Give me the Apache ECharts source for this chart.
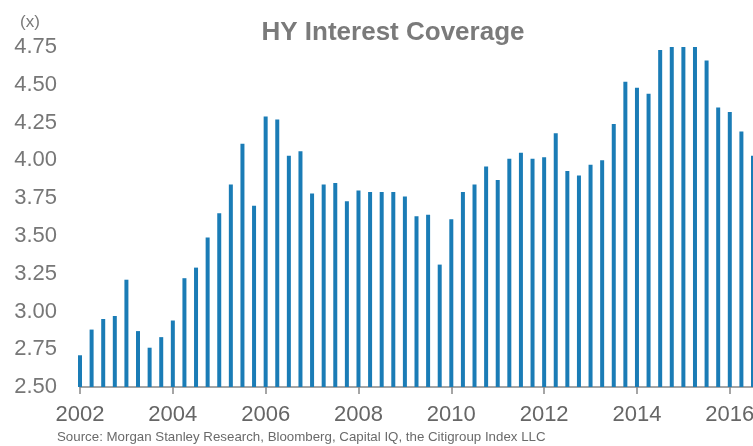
<!DOCTYPE html>
<html>
<head>
<meta charset="utf-8">
<script src="https://cdn.jsdelivr.net/npm/echarts@6/dist/echarts.min.js"></script>
<style>
  html, body { margin: 0; padding: 0; background: #fff; }
  #main { width: 753px; height: 446px; }
</style>
</head>
<body>
<div id="main"></div>
<script>
// quarters 2002Q1 .. 2016Q3
var years = [2002, 2003, 2004, 2005, 2006, 2007, 2008, 2009, 2010, 2011, 2012, 2013, 2014, 2015, 2016];
var quarters = [];
years.forEach(function (y) {
    for (var q = 1; q <= 4; q++) {
        if (y == 2016 && q > 3) break;
        quarters.push(y + 'Q' + q);
    }
});

var coverage = [
    2.71, 2.88, 2.95, 2.97, 3.21, 2.87, 2.76, 2.83,
    2.94, 3.22, 3.29, 3.49, 3.65, 3.84, 4.11, 3.70,
    4.29, 4.27, 4.03, 4.06, 3.78, 3.84, 3.85, 3.73,
    3.80, 3.79, 3.79, 3.79, 3.76, 3.63, 3.64, 3.31,
    3.61, 3.79, 3.84, 3.96, 3.87, 4.01, 4.05, 4.01,
    4.02, 4.18, 3.93, 3.90, 3.97, 4.00, 4.24, 4.52,
    4.48, 4.44, 4.73, 4.75, 4.75, 4.75, 4.66, 4.35,
    4.32, 4.19, 4.03
];

var yTicks = ['2.50', '2.75', '3.00', '3.25', '3.50', '3.75', '4.00', '4.25', '4.50', '4.75'];

var chart = echarts.init(document.getElementById('main'));
var option = {
    animation: false,
    title: {
        text: 'HY Interest Coverage',
        left: 388,
        top: 15,
        textAlign: 'center',
        textStyle: { fontFamily: 'Liberation Sans', fontSize: 26, fontWeight: 'bold', color: '#7a7a7a' }
    },
    graphic: [
        {
            type: 'text', left: 20, top: 14,
            style: { text: '(x)', font: '17px "Liberation Sans"', fill: '#7a7a7a' }
        },
        {
            type: 'text', left: 57, top: 431,
            style: { text: 'Source: Morgan Stanley Research, Bloomberg, Capital IQ, the Citigroup Index LLC',
                     font: '13.3px "Liberation Sans"', fill: '#6a6a6a' }
        }
    ],
    grid: { left: 80, right: 0, top: 47, bottom: 59, outerBoundsMode: 'none' },
    xAxis: {
        type: 'category',
        data: quarters,
        boundaryGap: false,
        axisLine: { lineStyle: { color: '#888', width: 1.5 } },
        axisTick: { interval: 7, length: 7, lineStyle: { color: '#888', width: 1.5 } },
        axisLabel: {
            interval: 7,
            formatter: function (v) { return v.slice(0, 4); },
            fontFamily: 'Liberation Sans',
            fontSize: 22,
            color: '#666',
            margin: 17
        }
    },
    yAxis: {
        type: 'value',
        min: 2.5,
        max: 4.75,
        interval: 0.25,
        splitLine: { show: false },
        axisLine: { show: false },
        axisTick: { show: false },
        axisLabel: {
            formatter: function (v) { return yTicks[Math.round((v - 2.5) / 0.25)]; },
            fontFamily: 'Liberation Sans',
            fontSize: 22,
            color: '#777',
            margin: 23
        }
    },
    series: [{
        type: 'bar',
        data: coverage,
        barWidth: 4,
        itemStyle: { color: '#1a7cb6' }
    }]
};
chart.setOption(option);
</script>
</body>
</html>
